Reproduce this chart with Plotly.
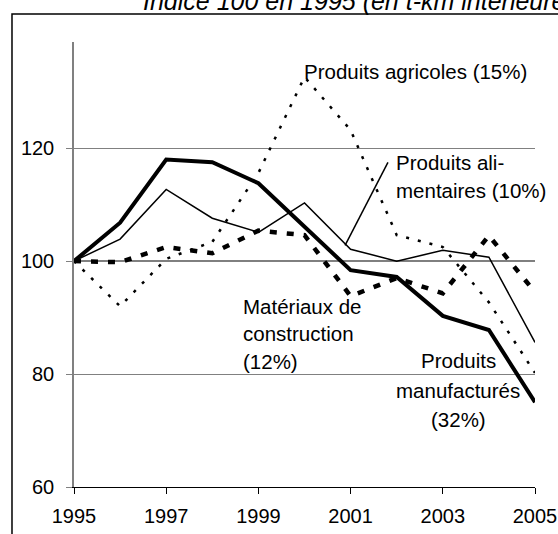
import plotly.graph_objects as go

years = list(range(1995, 2006))

manufactures = [100, 106.8, 118.0, 117.5, 113.8, 106.2, 98.4, 97.2, 90.3, 87.8, 75.0]
alimentaires = [100, 103.9, 112.7, 107.6, 105.1, 110.3, 102.1, 100.0, 101.9, 100.7, 85.6]
agricoles = [100, 92.0, 100.4, 103.4, 115.6, 132.6, 123.2, 104.6, 102.5, 92.7, 80.2]
construction = [100, 99.8, 102.5, 101.4, 105.4, 104.6, 93.8, 97.0, 94.3, 104.5, 94.5]

x_ticks = [1995, 1997, 1999, 2001, 2003, 2005]
y_ticks = [60, 80, 100, 120]

FONT = "Liberation Sans, Arial, sans-serif"

fig = go.Figure()

fig.add_trace(go.Scatter(x=years, y=agricoles, mode="lines",
                         line=dict(color="black", width=2.5, dash="3px,9px")))
fig.add_trace(go.Scatter(x=years, y=construction, mode="lines",
                         line=dict(color="black", width=4.5, dash="7px,10px")))
fig.add_trace(go.Scatter(x=years, y=alimentaires, mode="lines",
                         line=dict(color="black", width=1.5)))
fig.add_trace(go.Scatter(x=years, y=manufactures, mode="lines",
                         line=dict(color="black", width=4)))

# labels, one annotation per line
labels = [
    (1999.95, [133.5], ["Produits agricoles (15%)"], "left"),
    (2001.94, [117.4, 112.5], ["Produits ali-", "mentaires (10%)"], "left"),
    (1998.62, [92.0, 87.2, 82.2], ["Matériaux de", "construction", "(12%)"], "left"),
    (2003.33, [82.4, 77.1, 72.0], ["Produits", "manufacturés", "(32%)"], "center"),
]
for x, ys, texts, anchor in labels:
    for y, t in zip(ys, texts):
        fig.add_annotation(x=x, y=y, xref="x", yref="y", text=t, showarrow=False,
                           xanchor=anchor, yanchor="middle",
                           font=dict(family=FONT, size=20.5, color="black"))

# pointer line for alimentaires
fig.add_shape(type="line", xref="x", yref="y", x0=2000.88, y0=102.8, x1=2001.81, y1=117.5,
              line=dict(color="black", width=1.5))

# reference line at 100
fig.add_shape(type="line", xref="paper", yref="y", x0=0, x1=1, y0=100, y1=100,
              line=dict(color="black", width=1.2), layer="below")

# outer frame
fig.add_shape(type="rect", xref="paper", yref="paper", x0=-0.1345, x1=1.5, y0=-1, y1=1.063,
              line=dict(color="black", width=1.5))

fig.add_annotation(xref="paper", yref="paper", x=0.146, y=1.093, xanchor="left", yanchor="middle",
                   text="<i>Indice 100 en 1995 (en t-km intérieures)</i>", showarrow=False,
                   font=dict(family=FONT, size=25, color="black"))

fig.update_layout(
    width=558, height=534,
    margin=dict(l=74, r=23, t=42, b=47),
    paper_bgcolor="white", plot_bgcolor="white",
    showlegend=False,
    font=dict(family=FONT, size=20, color="black"),
)
fig.update_xaxes(range=[1995, 2005], tickvals=x_ticks, showgrid=False, zeroline=False,
                 automargin=False,
                 showline=True, linecolor="black", linewidth=1.2,
                 ticks="outside", ticklen=6, tickcolor="black", tickwidth=1,
                 ticklabelstandoff=5)
fig.update_yaxes(range=[60, 138.8], tickvals=y_ticks, showgrid=True, gridcolor="#808080",
                 gridwidth=1, zeroline=False, showline=True, linecolor="#808080", linewidth=1.5,
                 automargin=False,
                 ticks="outside", ticklen=6, tickcolor="#808080", tickwidth=1,
                 ticklabelstandoff=8)

# drop the default page margin so the figure sits at the window's corner
fig.write_html("out.html", config=dict(displayModeBar=False),
               post_script="document.body.style.margin = '0';")
